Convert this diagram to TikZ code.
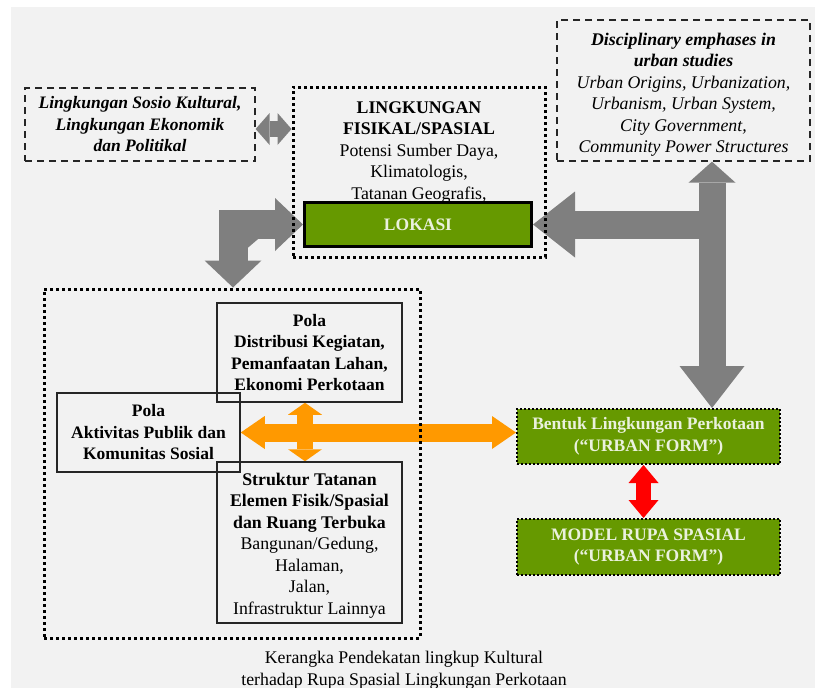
\documentclass[tikz,border=0pt]{standalone}
\usepackage{fontspec}
\setmainfont{Liberation Serif}
\usepackage{tikz}
\usetikzlibrary{arrows.meta,calc}
\definecolor{mybg}{HTML}{F2F2F2}
\definecolor{mygreen}{HTML}{669900}
\definecolor{mygreentext}{HTML}{EAF1DD}
\definecolor{myarrowgray}{HTML}{7F7F7F}
\definecolor{myorange}{HTML}{FF9900}
\definecolor{myline}{HTML}{262626}
\pgfdeclarelayer{under}
\pgfsetlayers{under,main}
\pgfkeys{tikz/mytext/.style={font=\fontsize{17.8}{21.5}\selectfont,align=center,inner sep=0pt}}
\pgfkeys{tikz/mydotframe/.style={draw=black,line width=3pt,dash pattern=on 3pt off 3pt}}
\pgfkeys{tikz/mydashbox/.style={mytext,draw=myline,line width=1.3pt,dash pattern=on 7pt off 5pt}}
\pgfkeys{tikz/mybox/.style={mytext,draw=myline,line width=1.5pt}}
\pgfkeys{tikz/mygreenbox/.style={mytext,fill=mygreen,text=mygreentext,font=\fontsize{17.5}{21.5}\selectfont\bfseries}}
\pgfkeys{tikz/myblockarrow/.style={line width=#1,line join=miter,line cap=butt}}
\newcommand\mybold{\fontsize{17.5}{21.5}\selectfont\bfseries}

\begin{document}
\begin{tikzpicture}[x=1pt,y=-1pt]
    \useasboundingbox (0,0) rectangle (815,688);
    \begin{pgfonlayer}{under}
        \fill[mybg] (11,7) rectangle (815,688);
    \end{pgfonlayer}
    \node[mydashbox,minimum width=230pt,minimum height=73pt,font=\mybold\itshape] (sosio) at (140,124.5)
        {Lingkungan Sosio Kultural,\\Lingkungan Ekonomik\\dan Politikal};
    \node[mydotframe,minimum width=252pt,minimum height=170pt] (fisikal) at (419,172) {};
    \node[mytext] (fisikaltext) at (419,152.5)
        {\textbf{LINGKUNGAN}\\\textbf{FISIKAL/SPASIAL}\\Potensi Sumber Daya,\\Klimatologis,\\Tatanan Geografis,};
    \node[mygreenbox,draw=black,line width=3pt,minimum width=227pt,minimum height=44pt] (lokasi) at (418,224.5) {LOKASI};
    \node[mydashbox,minimum width=253pt,minimum height=141pt,font=\fontsize{17.8}{21.5}\selectfont\itshape] (disc) at (683.5,90.5)
        {\rule{0pt}{21pt}\textbf{Disciplinary emphases in}\\\textbf{urban studies}\\Urban Origins, Urbanization,\\Urbanism, Urban System,\\City Government,\\Community Power Structures};
    \node[mydotframe,minimum width=376pt,minimum height=349pt] (kegiatan) at (232,463.5) {};
    \node[mybox,minimum width=185pt,minimum height=99pt,font=\mybold] (distribusi) at (309.5,352.5)
        {Pola\\Distribusi Kegiatan,\\Pemanfaatan Lahan,\\Ekonomi Perkotaan};
    \node[mybox,minimum width=183pt,minimum height=79pt,font=\mybold] (aktivitas) at (148.5,432.5)
        {Pola\\Aktivitas Publik dan\\Komunitas Sosial};
    \node[mybox,minimum width=185pt,minimum height=161pt] (struktur) at (309.5,542.5)
        {\rule{0pt}{18pt}\textbf{Struktur Tatanan}\\\textbf{Elemen Fisik/Spasial}\\\textbf{dan Ruang Terbuka}\\Bangunan/Gedung,\\Halaman,\\Jalan,\\Infrastruktur Lainnya};
    \node[mygreenbox,mydotframe,line width=2pt,dash pattern=on 2pt off 2pt,minimum width=263pt,minimum height=55pt] (bentuk) at (648.5,436.5)
        {Bentuk Lingkungan Perkotaan\\(“URBAN FORM”)};
    \node[mygreenbox,mydotframe,line width=2pt,dash pattern=on 2pt off 2pt,minimum width=263pt,minimum height=56pt] (model) at (648.5,547)
        {MODEL RUPA SPASIAL\\(“URBAN FORM”)};
    \node[mytext] (caption) at (404,670)
        {Kerangka Pendekatan lingkup Kultural\\terhadap Rupa Spasial Lingkungan Perkotaan};
    \coordinate (lbend) at (233,222);
    \coordinate (tee) at (712,223);
    \begin{pgfonlayer}{under}
        \draw[myblockarrow=16pt,draw=myarrowgray,fill=myarrowgray,
            {Triangle[length=14pt,width=32pt,line width=0pt]}-{Triangle[length=14pt,width=32pt,line width=0pt]}]
            ([yshift=-4.5pt]sosio.east) -- ([yshift=-4.5pt]sosio.east -| fisikal.west);
        \draw[myblockarrow=29pt,draw=myarrowgray,fill=myarrowgray,
            {Triangle[length=27pt,width=57pt,line width=0pt]}-{Triangle[length=28pt,width=53pt,line width=0pt]}]
            (lbend |- kegiatan.north) |- (lokasi.west);
        \draw[myblockarrow=27pt,draw=myarrowgray,fill=myarrowgray,
            {Triangle[length=21pt,width=47pt,line width=0pt]}-{Triangle[length=42pt,width=65pt,line width=0pt]}]
            (tee |- disc.south) -- (tee |- bentuk.north);
        \draw[myblockarrow=28pt,draw=myarrowgray,fill=myarrowgray,
            -{Triangle[length=42pt,width=66pt,line width=0pt]}]
            (tee |- lokasi.east) -- (lokasi.east);
        \draw[myblockarrow=18pt,draw=myorange,fill=myorange,
            {Triangle[length=24pt,width=33pt,line width=0pt]}-{Triangle[length=24pt,width=33pt,line width=0pt]}]
            (aktivitas.east) -- (aktivitas.east -| bentuk.west);
        \draw[myblockarrow=16pt,draw=myorange,fill=myorange,
            {Triangle[length=12pt,width=34pt,line width=0pt]}-{Triangle[length=12pt,width=34pt,line width=0pt]}]
            ([xshift=-4.5pt]distribusi.south) -- ([xshift=-4.5pt]struktur.north);
        \draw[myblockarrow=15pt,draw=red,fill=red,
            {Triangle[length=18pt,width=30pt,line width=0pt]}-{Triangle[length=18pt,width=30pt,line width=0pt]}]
            ([xshift=-5pt]bentuk.south) -- ([xshift=-5pt]model.north);
    \end{pgfonlayer}
\end{tikzpicture}
\end{document}
